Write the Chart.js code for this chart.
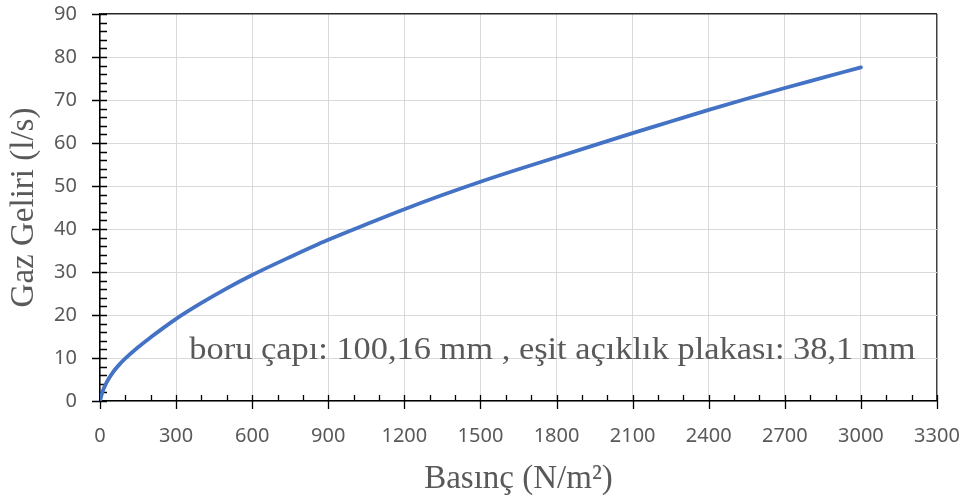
<!DOCTYPE html>
<html>
<head>
<meta charset="utf-8">
<script src="https://cdn.jsdelivr.net/npm/chart.js@4/dist/chart.umd.min.js"></script>
<style>
  html, body { margin: 0; padding: 0; background: #ffffff; }
  #wrap { width: 966px; height: 501px; position: relative; }
</style>
</head>
<body>
<div id="wrap"><canvas id="c"></canvas></div>
<script>
// Data
const pressure = [0, 10, 25, 50, 75, 100, 150, 200, 250, 300, 400, 500, 600, 750, 900, 1050, 1200, 1350, 1500, 1650, 1800, 1950, 2100, 2250, 2400, 2550, 2700, 2850, 3000];
const flow = [0, 2.2, 4.2, 6.6, 8.4, 9.9, 12.5, 14.8, 17.0, 19.1, 22.8, 26.2, 29.3, 33.5, 37.5, 41.1, 44.6, 47.9, 51.0, 53.9, 56.7, 59.5, 62.3, 65.0, 67.7, 70.3, 72.8, 75.2, 77.6];
const xTitle = 'Basınç (N/m²)';
const yTitle = 'Gaz Geliri (l/s)';
const noteText = 'boru çapı: 100,16 mm , eşit açıklık plakası: 38,1 mm';
const xMin = 0, xMax = 3300, xStep = 300, xMinorStep = 100;
const yMin = 0, yMax = 90, yStep = 10, yMinorStep = 2;

const points = pressure.map((p, i) => ({ x: p, y: flow[i] }));

const tickPlugin = {
  id: 'tickMarks',
  beforeDatasetsDraw(chart) {
    const ctx = chart.ctx;
    const xs = chart.scales.x, ys = chart.scales.y;
    const y0 = ys.getPixelForValue(yMin);
    const x0 = xs.getPixelForValue(xMin);
    ctx.save();
    ctx.strokeStyle = '#000000';
    ctx.lineWidth = 1.3;
    ctx.beginPath();
    for (let v = xMin; v <= xMax + 1e-9; v += xMinorStep) {
      const px = Math.round(xs.getPixelForValue(v)) + 0.5;
      if (v % xStep === 0) { ctx.moveTo(px, y0 - 6); ctx.lineTo(px, y0 + 8); }
      else { ctx.moveTo(px, y0 - 6); ctx.lineTo(px, y0); }
    }
    for (let v = yMin; v <= yMax + 1e-9; v += yMinorStep) {
      const py = Math.round(ys.getPixelForValue(v)) + 0.5;
      if (v % yStep === 0) { ctx.moveTo(x0 - 8, py); ctx.lineTo(x0 + 7, py); }
      else { ctx.moveTo(x0, py); ctx.lineTo(x0 + 7, py); }
    }
    ctx.stroke();
    ctx.restore();
  }
};

const notePlugin = {
  id: 'note',
  afterDatasetsDraw(chart, args, opts) {
    const ctx = chart.ctx;
    const xs = chart.scales.x, ys = chart.scales.y;
    const px = xs.getPixelForValue(opts.x);
    const py = ys.getPixelForValue(opts.y);
    ctx.save();
    ctx.translate(px, py);
    ctx.scale(opts.stretch, 1);
    ctx.font = opts.size + 'px "Liberation Serif", "Times New Roman", serif';
    ctx.fillStyle = '#595959';
    ctx.textBaseline = 'alphabetic';
    ctx.textAlign = 'left';
    ctx.fillText(opts.text, 0, 0);
    ctx.restore();
  }
};

new Chart(document.getElementById('c'), {
  type: 'line',
  data: {
    datasets: [{
      data: points,
      borderColor: '#4472C4',
      borderWidth: 3.8,
      pointRadius: 0,
      fill: false,
      cubicInterpolationMode: 'monotone',
      borderCapStyle: 'round'
    }]
  },
  plugins: [tickPlugin, notePlugin],
  options: {
    responsive: true,
    maintainAspectRatio: false,
    animation: false,
    layout: { padding: { top: 14, right: 29, bottom: 0, left: 0 } },
    plugins: {
      legend: { display: false },
      tooltip: { enabled: false },
      note: { text: noteText, x: 352, y: 9.7, size: 32, stretch: 1.075 }
    },
    scales: {
      x: {
        type: 'linear',
        min: xMin, max: xMax,
        afterFit(s) { s.height = 100; },
        ticks: {
          stepSize: xStep,
          maxRotation: 0,
          autoSkip: false,
          padding: 0,
          color: '#595959',
          font: { family: '"Noto Sans", sans-serif', size: 20 },
          callback: (v) => String(v)
        },
        grid: {
          drawTicks: true,
          tickLength: 23,
          tickColor: 'rgba(0,0,0,0)',
          color: (c) => (c.tick && c.tick.value === xMax) ? '#404040' : '#d9d9d9',
          lineWidth: (c) => (c.tick && c.tick.value === xMax) ? 1.5 : 1
        },
        border: { display: true, color: '#000000', width: 1.5 },
        title: {
          display: true,
          text: xTitle,
          color: '#595959',
          font: { family: '"Liberation Serif", "Times New Roman", serif', size: 33 },
          padding: { top: 0, bottom: 2 }
        }
      },
      y: {
        type: 'linear',
        min: yMin, max: yMax,
        afterFit(s) { s.width = 100; },
        ticks: {
          stepSize: yStep,
          autoSkip: false,
          padding: 0,
          color: '#595959',
          font: { family: '"Noto Sans", sans-serif', size: 20 }
        },
        grid: {
          drawTicks: true,
          tickLength: 23,
          tickColor: 'rgba(0,0,0,0)',
          color: (c) => (c.tick && c.tick.value === yMax) ? '#262626' : '#d9d9d9',
          lineWidth: (c) => (c.tick && c.tick.value === yMax) ? 1.5 : 1
        },
        border: { display: true, color: '#000000', width: 1.5 },
        title: {
          display: true,
          text: yTitle,
          color: '#595959',
          font: { family: '"Liberation Serif", "Times New Roman", serif', size: 33 },
          padding: { top: 5, bottom: 0 }
        }
      }
    }
  }
});
</script>
</body>
</html>
